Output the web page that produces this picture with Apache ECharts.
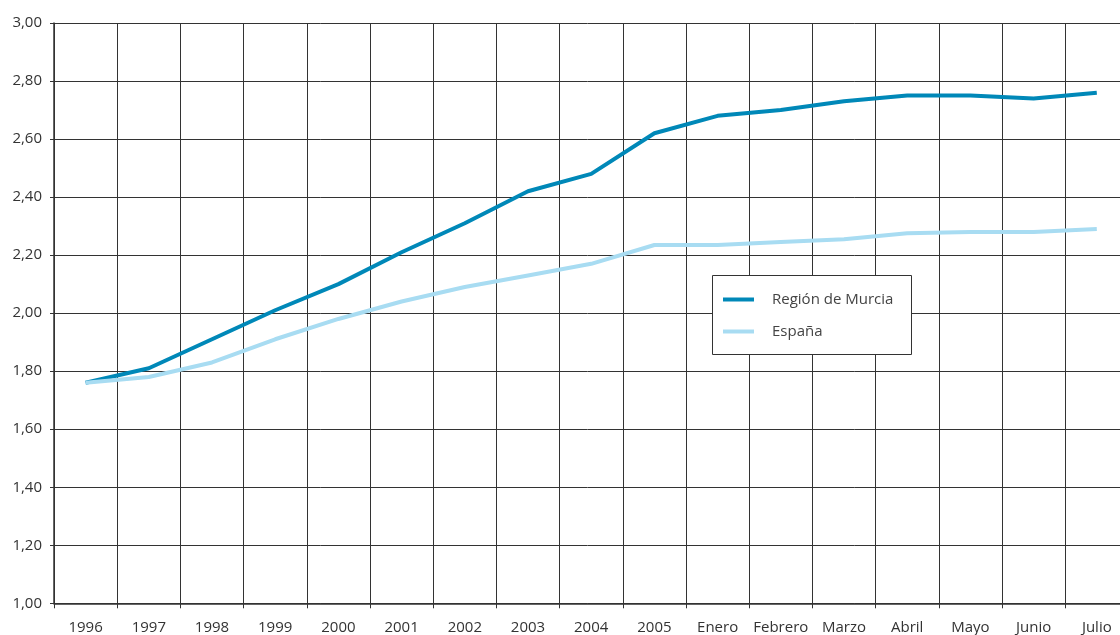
<!DOCTYPE html>
<html>
<head>
<meta charset="utf-8">
<script src="https://cdn.jsdelivr.net/npm/echarts@6/dist/echarts.min.js"></script>
<style>
html,body{margin:0;padding:0;background:#fff;overflow:hidden;}
#chart{width:1120px;height:635px;}
</style>
</head>
<body>
<div id="chart"></div>
<script>
var categories = ['1996','1997','1998','1999','2000','2001','2002','2003','2004','2005','Enero','Febrero','Marzo','Abril','Mayo','Junio','Julio'];
var murcia = [1.76, 1.81, 1.91, 2.01, 2.10, 2.21, 2.31, 2.42, 2.48, 2.62, 2.68, 2.70, 2.73, 2.75, 2.75, 2.74, 2.76];
var espana = [1.76, 1.78, 1.83, 1.91, 1.98, 2.04, 2.09, 2.13, 2.17, 2.235, 2.235, 2.245, 2.255, 2.275, 2.28, 2.28, 2.29];
var seriesNames = ['Región de Murcia', 'España'];
var yMin = 1.0, yMax = 3.0, yStep = 0.2;

var FONT = 'Open Sans';
var chart = echarts.init(document.getElementById('chart'), null, {renderer: 'canvas'});
chart.setOption({
  animation: false,
  backgroundColor: '#fff',
  grid: {left: 54, top: 23, width: 1074.4, height: 580.3, containLabel: false, outerBoundsMode: 'none'},
  graphic: [{
    type: 'rect', left: 712, top: 275, z: 90,
    shape: {width: 199, height: 79},
    style: {fill: '#fff', stroke: '#333', lineWidth: 1}
  }],
  legend: {
    orient: 'vertical', left: 723, top: 292, z: 100,
    padding: 0,
    icon: 'rect', itemWidth: 31, itemHeight: 4, itemGap: 17,
    data: seriesNames,
    textStyle: {fontFamily: FONT, fontSize: 15, color: '#444', lineHeight: 14, padding: [0, 0, 0, 13]}
  },
  xAxis: {
    type: 'category', data: categories, boundaryGap: true,
    axisLine: {lineStyle: {color: '#333', width: 1.5}},
    axisTick: {show: true, length: 5, interval: 0, lineStyle: {color: '#333'}},
    axisLabel: {interval: 0, margin: 17, fontFamily: FONT, fontSize: 15, color: '#333'},
    splitLine: {show: true, interval: 0, lineStyle: {color: '#333', width: 1}}
  },
  yAxis: {
    type: 'value', min: yMin, max: yMax, interval: yStep,
    axisLine: {show: true, lineStyle: {color: '#333', width: 1.5}},
    axisTick: {show: true, length: 4, lineStyle: {color: '#333'}},
    axisLabel: {margin: 12, fontFamily: FONT, fontSize: 15, color: '#333',
      formatter: function (v) { return v.toFixed(2).replace('.', ','); }},
    splitLine: {show: true, lineStyle: {color: '#333', width: 1}}
  },
  series: [
    {name: seriesNames[0], type: 'line', data: murcia, symbol: 'none', smooth: false,
      lineStyle: {color: '#0088b8', width: 4}, itemStyle: {color: '#0088b8'}},
    {name: seriesNames[1], type: 'line', data: espana, symbol: 'none', smooth: false,
      lineStyle: {color: '#a8dcf2', width: 4}, itemStyle: {color: '#a8dcf2'}}
  ]
});
</script>
</body>
</html>
